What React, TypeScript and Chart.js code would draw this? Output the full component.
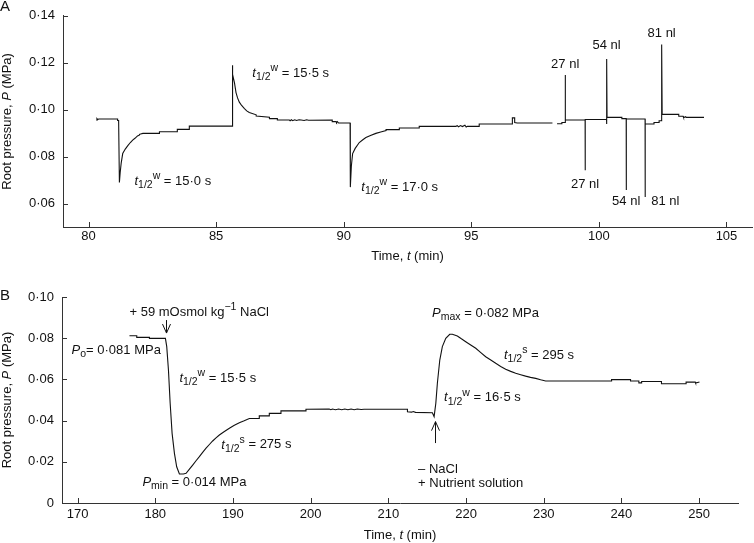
import React, { useEffect, useRef } from "react";
import { Chart, registerables } from "chart.js";

Chart.register(...registerables);

const FONT = '"Liberation Sans", Arial, Helvetica, sans-serif';
const INK = "#111111";
const AXIS = "#333333";

// ---------------- Panel A data ----------------
const timeA = [
  80.31, 80.33, 80.36, 80.4, 81.14, 81.14, 81.18, 81.21, 81.24, 81.28, 81.34, 81.44, 81.54, 81.64,
  81.73, 81.82, 81.92, 82.0, 82.0, 82.13, 82.78, 82.78, 83.48, 83.48, 83.95, 83.95, 85.63, 85.63,
  85.66, 85.72, 85.78, 85.84, 85.91, 86.0, 86.11, 86.2, 86.3, 86.57, 86.57, 87.09, 87.09, 87.4,
  87.4, 87.87, 87.9, 87.95, 88.0, 88.08, 88.15, 88.25, 88.33, 88.45, 88.55, 88.62, 89.55, 89.55,
  89.7, 89.72, 89.75, 89.8, 90.25, 90.26, 90.3, 90.35, 90.45, 90.61, 90.75, 90.87, 91.05, 91.26,
  91.45, 91.66, 91.66, 92.18, 92.18, 92.96, 92.96, 94.4, 94.45, 94.5, 94.58, 94.65, 94.75, 94.8,
  94.85, 95.31, 95.31, 96.61, 96.61, 96.7, 96.7, 96.8, 98.18, 98.27, 98.36, 98.55, 98.55, 98.68,
  98.68, 98.69, 99.46, 99.46, 99.47, 100.3, 100.3, 100.31, 100.32, 100.9, 100.9, 101.07, 101.07,
  101.08, 101.81, 101.81, 101.82, 102.16, 102.16, 102.36, 102.36, 102.46, 102.46, 102.48, 103.13,
  103.13, 103.3, 103.32, 103.4, 103.42, 104.12,
];
const pressureA: (number | null)[] = [
  0.0955, 0.0962, 0.0958, 0.096, 0.096, 0.0954, 0.0954, 0.069, 0.0731, 0.0772, 0.0813, 0.0832,
  0.0847, 0.086, 0.087, 0.0878, 0.0888, 0.0892, 0.0895, 0.0899, 0.0899, 0.0906, 0.0906, 0.0916,
  0.0916, 0.093, 0.093, 0.1189, 0.115, 0.1114, 0.1073, 0.105, 0.1032, 0.1018, 0.1004, 0.0995,
  0.0988, 0.0978, 0.0973, 0.0968, 0.0962, 0.0962, 0.0956, 0.0956, 0.0953, 0.0957, 0.0953, 0.0957,
  0.0954, 0.0957, 0.0956, 0.0954, 0.0957, 0.0955, 0.0956, 0.0949, 0.0949, 0.0945, 0.0949, 0.0943,
  0.0943, 0.067, 0.076, 0.0813, 0.0835, 0.086, 0.0872, 0.0881, 0.089, 0.0899, 0.0905, 0.0911,
  0.0915, 0.0915, 0.0922, 0.0922, 0.0929, 0.0929, 0.0932, 0.0927, 0.0932, 0.0928, 0.0934, 0.0926,
  0.0929, 0.0929, 0.0939, 0.0939, 0.0965, 0.0965, 0.0945, 0.0943, 0.0943, null, 0.094, 0.094,
  0.0945, 0.0945, 0.1148, 0.0956, 0.0956, 0.0742, 0.0958, 0.0958, 0.0939, 0.1216, 0.0967, 0.0967,
  0.0962, 0.0962, 0.0658, 0.096, 0.096, 0.0628, 0.0939, 0.0939, 0.0945, 0.0945, 0.0953, 0.0953,
  0.1278, 0.098, 0.098, 0.0972, 0.0972, 0.0966, 0.097, 0.0967, 0.0967,
];
const xTicksA = [80, 85, 90, 95, 100, 105];
const yTicksA = [0.06, 0.08, 0.1, 0.12, 0.14];
const yTickLabelsA = ["0·06", "0·08", "0·10", "0·12", "0·14"];

// ---------------- Panel B data ----------------
const timeB = [
  176.68, 177.62, 177.62, 179.25, 179.25, 181.31, 181.48, 181.7, 181.92, 182.17, 182.47, 182.76,
  183.11, 183.62, 183.97, 184.4, 184.82, 185.25, 185.68, 186.1, 186.54, 186.97, 187.39, 187.82,
  188.25, 188.9, 189.54, 190.18, 190.82, 191.45, 192.11, 193.39, 193.39, 194.68, 194.68, 196.18,
  196.18, 199.4, 199.4, 202.39, 202.6, 202.8, 203.2, 203.6, 204.0, 204.4, 204.8, 205.2, 205.6,
  206.0, 206.5, 206.89, 212.46, 212.46, 213.0, 213.2, 213.5, 215.67, 215.89, 216.11, 216.31,
  216.62, 216.95, 217.39, 217.9, 218.24, 218.88, 219.4, 219.96, 220.6, 221.25, 221.9, 222.53,
  223.18, 223.82, 224.46, 225.1, 225.75, 226.39, 227.03, 227.67, 228.3, 228.96, 229.6, 230.24,
  238.73, 238.73, 241.17, 241.17, 242.24, 242.24, 242.6, 242.6, 245.15, 245.15, 248.32, 248.32,
  249.5, 249.55, 250.04,
];
const pressureB = [
  0.0812, 0.0812, 0.0804, 0.0804, 0.0799, 0.0799, 0.0759, 0.0646, 0.0484, 0.0338, 0.0241, 0.0176,
  0.0141, 0.0141, 0.0144, 0.0164, 0.0184, 0.0205, 0.0225, 0.0246, 0.0266, 0.0284, 0.0301, 0.0316,
  0.033, 0.0347, 0.0363, 0.0377, 0.039, 0.0399, 0.041, 0.041, 0.0423, 0.0423, 0.0435, 0.0435,
  0.0447, 0.0447, 0.0455, 0.0456, 0.0453, 0.0456, 0.0453, 0.0456, 0.0453, 0.0456, 0.0453, 0.0456,
  0.0453, 0.0456, 0.0454, 0.0455, 0.0455, 0.0443, 0.0441, 0.0444, 0.044, 0.0438, 0.0419, 0.0484,
  0.0581, 0.0694, 0.0759, 0.0799, 0.0819, 0.0819, 0.0811, 0.0797, 0.0783, 0.0767, 0.0751, 0.073,
  0.071, 0.0694, 0.0678, 0.0663, 0.0649, 0.0639, 0.063, 0.0623, 0.0616, 0.061, 0.0605, 0.0598,
  0.0592, 0.0592, 0.0599, 0.0599, 0.0592, 0.0592, 0.0583, 0.0583, 0.059, 0.059, 0.0579, 0.0579,
  0.0587, 0.0587, 0.0582, 0.0587,
];
const xTicksB = [170, 180, 190, 200, 210, 220, 230, 240, 250];
const yTicksB = [0, 0.02, 0.04, 0.06, 0.08, 0.1];
const yTickLabelsB = ["0", "0·02", "0·04", "0·06", "0·08", "0·10"];

// ---------------- Text ----------------
type Style = "n" | "i" | "sub" | "sup";
type Seg = [string, Style?];
const tHalf = (sup: string, rest: string): Seg[] => [["t", "i"], ["1/2", "sub"], [sup, "sup"], [rest]];
const xTitle: Seg[] = [["Time, "], ["t", "i"], [" (min)"]];
const yTitle: Seg[] = [["Root pressure, "], ["P", "i"], [" (MPa)"]];

const notesA = [
  { t: 81.8, p: 0.0695, align: "left", segs: tHalf("w", " = 15·0 s") },
  { t: 86.42, p: 0.1155, align: "left", segs: tHalf("w", " = 15·5 s") },
  { t: 90.69, p: 0.0669, align: "left", segs: tHalf("w", " = 17·0 s") },
  { t: 98.68, p: 0.1191, align: "center", segs: [["27 nl"]] as Seg[] },
  { t: 100.3, p: 0.1273, align: "center", segs: [["54 nl"]] as Seg[] },
  { t: 102.46, p: 0.1326, align: "center", segs: [["81 nl"]] as Seg[] },
  { t: 99.46, p: 0.0681, align: "center", segs: [["27 nl"]] as Seg[] },
  { t: 101.07, p: 0.0607, align: "center", segs: [["54 nl"]] as Seg[] },
  { t: 102.05, p: 0.0607, align: "left", segs: [["81 nl"]] as Seg[] },
];
const notesB = [
  { t: 176.68, p: 0.0927, align: "left", segs: [["+ 59 mOsmol kg"], ["−1", "sup"], [" NaCl"]] as Seg[] },
  { t: 169.23, p: 0.0743, align: "left", segs: [["P", "i"], ["o", "sub"], ["= 0·081 MPa"]] as Seg[] },
  { t: 183.11, p: 0.0607, align: "left", segs: tHalf("w", " = 15·5 s") },
  { t: 188.51, p: 0.0282, align: "left", segs: tHalf("s", " = 275 s") },
  { t: 178.35, p: 0.0099, align: "left", segs: [["P", "i"], ["min", "sub"], [" = 0·014 MPa"]] as Seg[] },
  { t: 215.63, p: 0.0922, align: "left", segs: [["P", "i"], ["max", "sub"], [" = 0·082 MPa"]] as Seg[] },
  { t: 224.88, p: 0.0718, align: "left", segs: tHalf("s", " = 295 s") },
  { t: 217.17, p: 0.0511, align: "left", segs: tHalf("w", " = 16·5 s") },
  { t: 213.83, p: 0.0165, align: "left", segs: [["– NaCl"]] as Seg[] },
  { t: 213.83, p: 0.0097, align: "left", segs: [["+ Nutrient solution"]] as Seg[] },
];
const arrowsB = [
  { t: 181.4, from: 0.0888, to: 0.0825 },
  { t: 215.98, from: 0.0291, to: 0.0395 },
];

function setFont(ctx: CanvasRenderingContext2D, st: Style) {
  const small = st === "sub" || st === "sup";
  ctx.font = `${st === "i" ? "italic " : ""}${small ? 10.5 : 13}px ${FONT}`;
}

function drawRich(ctx: CanvasRenderingContext2D, x: number, y: number, segs: Seg[], align: string) {
  ctx.save();
  ctx.textBaseline = "middle";
  ctx.textAlign = "left";
  let w = 0;
  for (const [txt, st = "n"] of segs) {
    setFont(ctx, st);
    w += ctx.measureText(txt).width;
  }
  let cx = align === "center" ? x - w / 2 : align === "right" ? x - w : x;
  for (const [txt, st = "n"] of segs) {
    setFont(ctx, st);
    const dy = st === "sub" ? 4 : st === "sup" ? -5 : 0;
    ctx.fillText(txt, cx, y + dy);
    cx += ctx.measureText(txt).width;
  }
  ctx.restore();
}

interface PanelCfg {
  times: number[];
  values: (number | null)[];
  xMin: number;
  xMax: number;
  yMin: number;
  yMax: number;
  xTicks: number[];
  yTicks: number[];
  yLabels: string[];
  yWidth: number;
  xHeight: number;
  padTop: number;
  padRight: number;
  xPad: number;
  xTitleY: number;
  letter: string;
  letterY: number;
  notes: { t: number; p: number; align: string; segs: Seg[] }[];
  arrows: { t: number; from: number; to: number }[];
}

function makeChart(canvas: HTMLCanvasElement, c: PanelCfg) {
  const overlay = {
    id: "overlay",
    afterDraw(chart: any) {
      const { ctx, chartArea: ca, scales } = chart;
      const xs = scales.x;
      const ys = scales.y;
      ctx.save();
      ctx.strokeStyle = AXIS;
      ctx.lineWidth = 1;
      ctx.beginPath();
      for (const v of c.xTicks) {
        const px = Math.round(xs.getPixelForValue(v)) + 0.5;
        ctx.moveTo(px, ca.bottom);
        ctx.lineTo(px, ca.bottom - 5);
      }
      for (const v of c.yTicks) {
        const py = Math.round(ys.getPixelForValue(v)) + 0.5;
        ctx.moveTo(ca.left, py);
        ctx.lineTo(ca.left + 5, py);
      }
      ctx.stroke();

      ctx.fillStyle = INK;
      for (const n of c.notes) {
        drawRich(ctx, xs.getPixelForValue(n.t), ys.getPixelForValue(n.p), n.segs, n.align);
      }
      ctx.strokeStyle = INK;
      for (const a of c.arrows) {
        const px = Math.round(xs.getPixelForValue(a.t)) + 0.5;
        const y1 = ys.getPixelForValue(a.from);
        const y2 = ys.getPixelForValue(a.to);
        const dir = y2 > y1 ? 1 : -1;
        ctx.beginPath();
        ctx.moveTo(px, y1);
        ctx.lineTo(px, y2);
        ctx.moveTo(px - 4, y2 - dir * 9);
        ctx.lineTo(px, y2);
        ctx.lineTo(px + 4, y2 - dir * 9);
        ctx.stroke();
      }

      drawRich(ctx, (ca.left + ca.right) / 2, c.xTitleY, xTitle, "center");
      ctx.save();
      ctx.translate(7, (ca.top + ca.bottom) / 2);
      ctx.rotate(-Math.PI / 2);
      drawRich(ctx, 0, 0, yTitle, "center");
      ctx.restore();

      ctx.font = `15px ${FONT}`;
      ctx.textBaseline = "middle";
      ctx.textAlign = "left";
      ctx.fillText(c.letter, 0, c.letterY);
      ctx.restore();
    },
  };

  return new Chart(canvas, {
    type: "line",
    data: {
      datasets: [
        {
          data: c.times.map((t, i) => ({ x: t, y: c.values[i] })) as any,
          borderColor: INK,
          borderWidth: 1.1,
          pointRadius: 0,
          tension: 0,
          spanGaps: false,
          fill: false,
        },
      ],
    },
    options: {
      responsive: false,
      animation: false,
      devicePixelRatio: 1,
      layout: { autoPadding: false, padding: { top: c.padTop, right: c.padRight, left: 0, bottom: 0 } },
      plugins: { legend: { display: false }, tooltip: { enabled: false } },
      events: [],
      scales: {
        x: {
          type: "linear",
          min: c.xMin,
          max: c.xMax,
          grid: { display: false, drawTicks: false },
          border: { display: true, color: AXIS, width: 1 },
          afterBuildTicks: (s: any) => {
            s.ticks = c.xTicks.map((v) => ({ value: v }));
          },
          afterFit: (s: any) => {
            s.height = c.xHeight;
          },
          ticks: {
            padding: c.xPad,
            color: INK,
            font: { family: FONT, size: 13 },
            maxRotation: 0,
            autoSkip: false,
            callback: (v: any) => String(v),
          },
        },
        y: {
          type: "linear",
          min: c.yMin,
          max: c.yMax,
          grid: { display: false, drawTicks: false },
          border: { display: true, color: AXIS, width: 1 },
          afterBuildTicks: (s: any) => {
            s.ticks = c.yTicks.map((v) => ({ value: v }));
          },
          afterFit: (s: any) => {
            s.width = c.yWidth;
          },
          ticks: {
            padding: 8,
            color: INK,
            font: { family: FONT, size: 13 },
            autoSkip: false,
            callback: (v: any) => {
              const i = c.yTicks.findIndex((t) => Math.abs(t - v) < 1e-9);
              return i >= 0 ? c.yLabels[i] : "";
            },
          },
        },
      },
    },
    plugins: [overlay],
  } as any);
}

export default function App() {
  const refA = useRef<HTMLCanvasElement>(null);
  const refB = useRef<HTMLCanvasElement>(null);

  useEffect(() => {
    const a = makeChart(refA.current!, {
      times: timeA,
      values: pressureA,
      xMin: 79,
      xMax: 106,
      yMin: 0.05,
      yMax: 0.14,
      xTicks: xTicksA,
      yTicks: yTicksA,
      yLabels: yTickLabelsA,
      yWidth: 63,
      xHeight: 43,
      padTop: 7,
      padRight: 2,
      xPad: 2,
      xTitleY: 256,
      letter: "A",
      letterY: 7,
      notes: notesA,
      arrows: [],
    });
    const b = makeChart(refB.current!, {
      times: timeB,
      values: pressureB,
      xMin: 168,
      xMax: 255,
      yMin: 0,
      yMax: 0.1,
      xTicks: xTicksB,
      yTicks: yTicksB,
      yLabels: yTickLabelsB,
      yWidth: 62,
      xHeight: 40,
      padTop: 27,
      padRight: 16,
      xPad: 4,
      xTitleY: 265,
      letter: "B",
      letterY: 26,
      notes: notesB,
      arrows: arrowsB,
    });
    return () => {
      a.destroy();
      b.destroy();
    };
  }, []);

  return (
    <div style={{ position: "absolute", left: 0, top: 0, width: 754, height: 543, background: "#fff" }}>
      <canvas ref={refA} width={754} height={270} style={{ position: "absolute", left: 0, top: 0, display: "block" }} />
      <canvas ref={refB} width={754} height={273} style={{ position: "absolute", left: 0, top: 270, display: "block" }} />
    </div>
  );
}
